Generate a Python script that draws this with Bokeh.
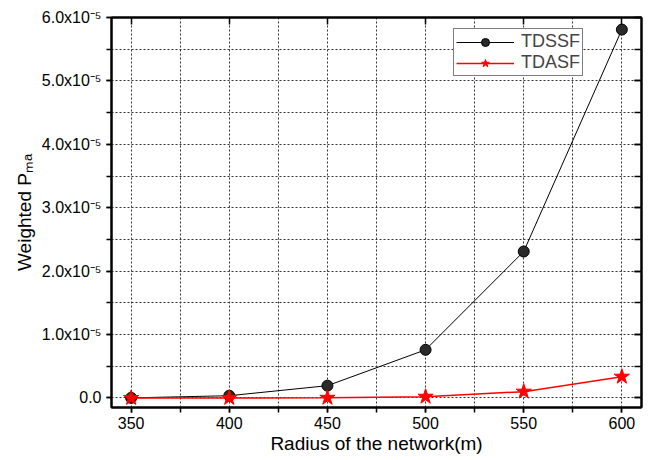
from bokeh.plotting import figure
from bokeh.models import (Range1d, SingleIntervalTicker, LinearAxis, CustomJSTickFormatter,
                          Legend, LegendItem, Grid)
from bokeh.embed import file_html
from bokeh.resources import INLINE

radius = [350, 400, 450, 500, 550, 600]
tdssf = [2e-8, 3.6e-7, 1.94e-6, 7.6e-6, 2.31e-5, 5.81e-5]
tdasf = [0.0, 1e-8, 3e-8, 2e-7, 1.0e-6, 3.36e-6]
x_label = "Radius of the network(m)"
y_label = "Weighted P\u2098\u2090"
names = ["TDSSF", "TDASF"]

FONT = "Liberation Sans"

p = figure(width=652, height=460, output_backend="svg", toolbar_location=None,
           x_range=Range1d(340, 610), y_range=Range1d(-1.5e-6, 6.0005e-5),
           min_border_left=111, min_border_right=11, min_border_top=17, min_border_bottom=53,
           x_axis_type=None, y_axis_type=None)
p.outline_line_color = "black"
p.outline_line_width = 2
p.background_fill_color = "white"
p.border_fill_color = "white"

xt = SingleIntervalTicker(interval=50, num_minor_ticks=2)
yt = SingleIntervalTicker(interval=1e-5, num_minor_ticks=2)

yfmt = CustomJSTickFormatter(code="""
if (Math.abs(tick) < 1e-12) { return "0.0"; }
return (tick / 1e-5).toFixed(1) + "x10\u207B\u2075";
""")
blank = CustomJSTickFormatter(code='return "";')


def style(ax, labels=True, inward=False):
    ax.axis_line_width = 2
    ax.axis_line_color = "black"
    ax.major_tick_line_width = 1.5
    ax.minor_tick_line_width = 1.5
    if inward:
        ax.major_tick_in = 7
        ax.major_tick_out = 0
        ax.minor_tick_in = 7
        ax.minor_tick_out = 0
    else:
        ax.major_tick_in = 0
        ax.major_tick_out = 5
        ax.minor_tick_in = 0
        ax.minor_tick_out = 5
    ax.major_label_text_font = FONT
    ax.major_label_text_font_size = "16px" if labels else "0px"
    ax.major_label_text_color = "black"
    ax.axis_label_text_font = FONT
    ax.axis_label_text_font_size = "19px"
    ax.axis_label_text_font_style = "normal"
    ax.axis_label_text_color = "black"


xb = LinearAxis(ticker=xt, axis_label=x_label)
style(xb)
xb.major_label_standoff = 4
xb.axis_label_standoff = 1
p.add_layout(xb, "below")

yl = LinearAxis(ticker=yt, formatter=yfmt, axis_label=y_label)
style(yl)
yl.major_label_standoff = 5
yl.axis_label_standoff = 4
p.add_layout(yl, "left")

xtop = LinearAxis(ticker=xt, formatter=blank)
style(xtop, labels=False, inward=True)
xtop.minor_tick_in = 0
xtop.major_label_standoff = 0
p.add_layout(xtop, "above")

yr = LinearAxis(ticker=yt, formatter=blank)
style(yr, labels=False, inward=True)
yr.major_label_standoff = 0
p.add_layout(yr, "right")

gx = Grid(dimension=0, ticker=xt, grid_line_color=None,
          minor_grid_line_color="#333333", minor_grid_line_dash="2 2", minor_grid_line_width=1)
gy = Grid(dimension=1, ticker=yt, grid_line_color=None,
          minor_grid_line_color="#333333", minor_grid_line_dash="2 2", minor_grid_line_width=1)
p.add_layout(gx)
p.add_layout(gy)

l1 = p.line(radius, tdssf, line_color="black", line_width=1)
s1 = p.scatter(radius, tdssf, marker="circle", size=11, fill_color="#2a2a2a", line_color="black")
l2 = p.line(radius, tdasf, line_color="#ff0000", line_width=1.5)
s2 = p.scatter(radius, tdasf, marker="star", size=16, fill_color="#ff0000", line_color="#ff0000")

legend = Legend(items=[LegendItem(label=names[0], renderers=[l1, s1]),
                       LegendItem(label=names[1], renderers=[l2, s2])],
                location=(342, 331), margin=0, padding=2, spacing=0,
                glyph_width=58, glyph_height=20, label_height=20, label_standoff=7,
                label_text_font=FONT, label_text_font_size="18px",
                border_line_color="black", border_line_width=1,
                background_fill_color="white", background_fill_alpha=1)
p.add_layout(legend)

open("out.html", "w").write(file_html(p, INLINE))
